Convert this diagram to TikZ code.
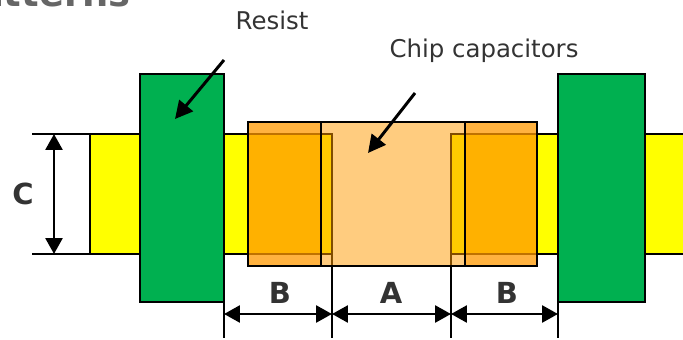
\documentclass[tikz,border=0pt]{standalone}
\usepackage{fontspec}
\setmainfont{DejaVu Sans}
\usetikzlibrary{arrows.meta}
\definecolor{padyellow}{HTML}{FFFF00}
\definecolor{resistgreen}{HTML}{00B050}
\definecolor{chiporange}{HTML}{FF9900}
\definecolor{labelgray}{HTML}{333333}
\definecolor{titlegray}{HTML}{666666}
\tikzset{
    outline/.style = {draw = black, line width = 1.4pt},
    dimline/.style = {black, line width = 1.4pt},
    dimarrow/.style = {line width = 1.7pt, {Triangle[length = 9pt, width = 9.5pt]}-{Triangle[length = 9pt, width = 9.5pt]}},
    leader/.style = {line width = 1.7pt, -{Triangle[length = 10pt, width = 10pt]}},
    caption/.style = {text = labelgray, font = \fontsize{13.9}{16}\selectfont},
    dimlabel/.style = {text = labelgray, font = \fontsize{16.5}{20}\selectfont\bfseries}
}
\begin{document}
\begin{tikzpicture}
    \useasboundingbox (0,0) rectangle (13.66,6.78);
    \clip (0,0) rectangle (13.66,6.78);
    % copper pads
    \begin{scope}[style = outline]
        \draw[fill = padyellow] (13.9,4.10) -- (9.02,4.10) -- (9.02,1.70) -- (13.9,1.70);
        \draw[fill = padyellow] (1.80,1.70) rectangle (6.64,4.10);
    \end{scope}
    % dimension extension lines
    \coordinate (ctop) at (1.08,4.10);
    \coordinate (cbottom) at (1.08,1.70);
    \coordinate (d1) at (4.48,0.50);
    \coordinate (d2) at (6.64,0.50);
    \coordinate (d3) at (9.02,0.50);
    \coordinate (d4) at (11.16,0.50);
    \begin{scope}[style = dimline]
        \draw (0.64,4.10) -- (1.80,4.10);
        \draw (0.64,1.70) -- (1.80,1.70);
        \draw (4.48,1.70) -- (4.48,0.02);
        \draw (6.64,1.70) -- (6.64,0.02);
        \draw (9.02,1.70) -- (9.02,0.02);
        \draw (11.16,1.70) -- (11.16,0.02);
    \end{scope}
    % resist
    \begin{scope}[style = outline]
        \draw[fill = resistgreen] (2.80,0.74) rectangle (4.48,5.30);
        \draw[fill = resistgreen] (11.16,0.74) rectangle (12.90,5.30);
    \end{scope}
    % chip body and terminals
    \fill[chiporange, fill opacity = 0.5] (4.96,1.46) rectangle (10.74,4.34);
    \fill[chiporange, fill opacity = 0.5] (4.96,1.46) rectangle (6.42,4.34);
    \fill[chiporange, fill opacity = 0.5] (9.30,1.46) rectangle (10.74,4.34);
    \begin{scope}[style = outline]
        \draw (4.96,1.46) rectangle (10.74,4.34);
        \draw (6.42,1.46) -- (6.42,4.34);
        \draw (9.30,1.46) -- (9.30,4.34);
    \end{scope}
    % labels
    \node[text = titlegray, font = \fontsize{21}{24}\selectfont\bfseries, anchor = base east, inner sep = 0pt] (title) at (2.62,6.64) {patterns};
    \node[caption] (resist) at (5.44,6.38) {Resist};
    \node[caption] (chip) at (9.68,5.77) {Chip capacitors};
    \node[dimlabel] (c) at (0.46,2.90) {C};
    \node[dimlabel] (b1) at (5.60,0.92) {B};
    \node[dimlabel] (a) at (7.82,0.92) {A};
    \node[dimlabel] (b2) at (10.14,0.92) {B};
    % arrows
    \coordinate (resisttail) at (4.48,5.58);
    \coordinate (resisttip) at (3.50,4.40);
    \coordinate (chiptail) at (8.30,4.92);
    \coordinate (chiptip) at (7.36,3.72);
    \draw[leader] (resisttail) -- (resisttip);
    \draw[leader] (chiptail) -- (chiptip);
    \draw[dimarrow] (ctop) -- (cbottom);
    \draw[dimarrow] (d1) -- (d2);
    \draw[dimarrow] (d2) -- (d3);
    \draw[dimarrow] (d3) -- (d4);
\end{tikzpicture}
\end{document}
